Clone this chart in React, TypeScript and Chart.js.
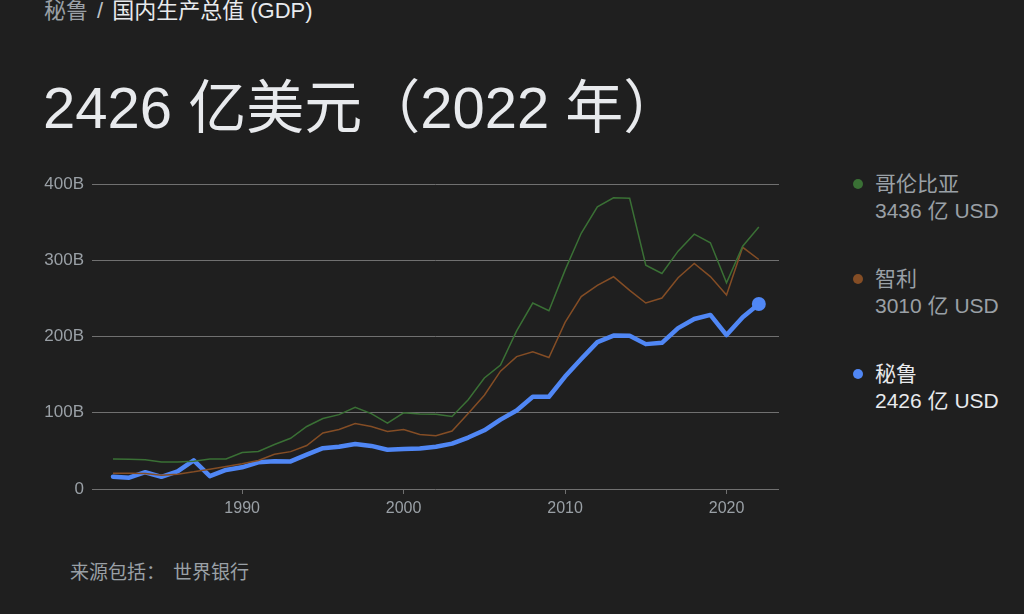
import React, { useEffect, useRef } from "react";
import { Chart, registerables } from "chart.js";

Chart.register(...registerables);

const years = [
  1982, 1983, 1984, 1985, 1986, 1987, 1988, 1989, 1990, 1991, 1992, 1993, 1994, 1995,
  1996, 1997, 1998, 1999, 2000, 2001, 2002, 2003, 2004, 2005, 2006, 2007, 2008, 2009,
  2010, 2011, 2012, 2013, 2014, 2015, 2016, 2017, 2018, 2019, 2020, 2021, 2022,
];

const colombia = [
  39.5, 39, 38.5, 35.5, 35.3, 36.5, 39.3, 39.5, 47.8, 49.2, 58.4, 66.5, 82, 92.5,
  97.5, 107, 98.8, 86.5, 100, 98.5, 98, 95, 117, 145.6, 162.6, 207.4, 243.9, 233.8,
  287, 335.4, 370, 382, 381.2, 293.5, 282.7, 311.9, 334.2, 323, 270.3, 318.5, 343.6,
];

const chile = [
  20.5, 20.6, 20.2, 18, 19.5, 22.5, 26, 29.5, 33, 37.5, 45.5, 49, 57, 73.5,
  78, 86, 82, 75.5, 78, 71.5, 70, 76, 99, 123, 154.5, 173.6, 180, 172.4,
  218.5, 252.3, 267.1, 278.4, 260.5, 243.9, 250.4, 277, 295.9, 278.6, 254.3, 317, 301,
];

const peru = [
  16.2, 14.9, 22, 16, 23, 37.5, 16.8, 25, 28.4, 35, 36.5, 36.2, 45, 53.5,
  55.5, 59, 56.5, 51.5, 52.5, 53, 55.5, 59.5, 67.5, 77, 91, 103, 121, 121,
  147.5, 170.5, 192.6, 201.2, 201, 190, 191.7, 211, 223, 228.3, 201.9, 225.4, 242.6,
];

const seriesNames = ["哥伦比亚", "智利", "秘鲁"];
const seriesValues = ["3436 亿 USD", "3010 亿 USD", "2426 亿 USD"];
const seriesColors = ["#3a7035", "#844d25", "#5087f5"];

const yTickValues = [0, 100, 200, 300, 400];
const yTickLabels = ["0", "100B", "200B", "300B", "400B"];
const xTickValues = [1990, 2000, 2010, 2020];

const FONT = "'Liberation Sans', 'Noto Sans CJK SC', sans-serif";
const BG = "#1f1f1f";

export default function App() {
  const canvasRef = useRef<HTMLCanvasElement | null>(null);

  useEffect(() => {
    document.body.style.margin = "0";
    document.body.style.background = BG;
    const canvas = canvasRef.current;
    if (!canvas) return;
    const toPts = (arr: number[]) => arr.map((v, i) => ({ x: years[i], y: v }));
    const last = years.length - 1;
    const chart = new Chart(canvas, {
      type: "line",
      data: {
        datasets: [
          {
            label: seriesNames[0],
            data: toPts(colombia),
            borderColor: seriesColors[0],
            borderWidth: 1.5,
            pointRadius: 0,
            tension: 0,
          },
          {
            label: seriesNames[1],
            data: toPts(chile),
            borderColor: seriesColors[1],
            borderWidth: 1.5,
            pointRadius: 0,
            tension: 0,
          },
          {
            label: seriesNames[2],
            data: toPts(peru),
            borderColor: seriesColors[2],
            backgroundColor: seriesColors[2],
            borderWidth: 4.5,
            borderJoinStyle: "round",
            borderCapStyle: "round",
            pointRadius: (ctx: any) => (ctx.dataIndex === last ? 7 : 0),
            pointBorderWidth: 0,
            tension: 0,
            clip: false as any,
          },
        ],
      },
      options: {
        animation: false,
        responsive: false,
        maintainAspectRatio: false,
        events: [],
        layout: { padding: { top: 24, right: 21, left: 0, bottom: 0 } },
        plugins: { legend: { display: false }, tooltip: { enabled: false } },
        scales: {
          x: {
            type: "linear",
            min: 1980.7,
            max: 2023.25,
            border: { display: false },
            grid: {
              drawOnChartArea: false,
              drawTicks: true,
              tickLength: 5,
              color: "#707070",
            },
            ticks: {
              color: "#9aa0a6",
              font: { family: FONT, size: 16 },
              padding: 5,
              maxRotation: 0,
              callback: (v: any) => String(v),
            },
            afterBuildTicks: (s: any) => {
              s.ticks = xTickValues.map((v) => ({ value: v }));
            },
            afterFit: (s: any) => {
              s.height = 31;
            },
          },
          y: {
            type: "linear",
            min: 0,
            max: 400,
            border: { display: false },
            grid: { color: "#707070", lineWidth: 1, drawTicks: false },
            ticks: {
              color: "#9aa0a6",
              font: { family: FONT, size: 17 },
              padding: 8,
              callback: (v: any) => {
                const i = yTickValues.indexOf(Number(v));
                return i >= 0 ? yTickLabels[i] : "";
              },
            },
            afterBuildTicks: (s: any) => {
              s.ticks = yTickValues.map((v) => ({ value: v }));
            },
            afterFit: (s: any) => {
              s.width = 92;
            },
          },
        },
      } as any,
    });
    return () => chart.destroy();
  }, []);

  const legendTop = [184, 279, 374];

  return (
    <div
      style={{
        position: "absolute",
        left: 0,
        top: 0,
        width: 1024,
        height: 614,
        background: BG,
        overflow: "hidden",
        fontFamily: FONT,
      }}
    >
      <div
        style={{
          position: "absolute",
          left: 44,
          top: -3,
          fontSize: 22,
          lineHeight: "28px",
          color: "#e8eaed",
          whiteSpace: "nowrap",
        }}
      >
        <span style={{ color: "#9aa0a6" }}>秘鲁</span>
        <span style={{ color: "#bdc1c6", margin: "0 9px" }}>/</span>
        <span>国内生产总值 (GDP)</span>
      </div>
      <div
        style={{
          position: "absolute",
          left: 43,
          top: 74,
          fontSize: 58,
          lineHeight: "68px",
          color: "#e8eaed",
          whiteSpace: "nowrap",
        }}
      >
        2426 亿美元（2022 年）
      </div>
      <canvas
        ref={canvasRef}
        width={800}
        height={360}
        style={{ position: "absolute", left: 0, top: 160, width: 800, height: 360 }}
      />
      {seriesNames.map((name, i) => (
        <div key={name}>
          <div
            style={{
              position: "absolute",
              left: 853,
              top: legendTop[i] - 5,
              width: 10,
              height: 10,
              borderRadius: 5,
              background: seriesColors[i],
            }}
          />
          <div
            style={{
              position: "absolute",
              left: 875,
              top: legendTop[i] - 14,
              fontSize: 21,
              lineHeight: "27px",
              color: i === 2 ? "#e8eaed" : "#9aa0a6",
              whiteSpace: "nowrap",
            }}
          >
            <div>{name}</div>
            <div>{seriesValues[i]}</div>
          </div>
        </div>
      ))}
      <div
        style={{
          position: "absolute",
          left: 70,
          top: 561,
          fontSize: 19,
          lineHeight: "24px",
          color: "#9aa0a6",
          whiteSpace: "nowrap",
        }}
      >
        来源包括：<span style={{ marginLeft: 8 }}>世界银行</span>
      </div>
    </div>
  );
}
